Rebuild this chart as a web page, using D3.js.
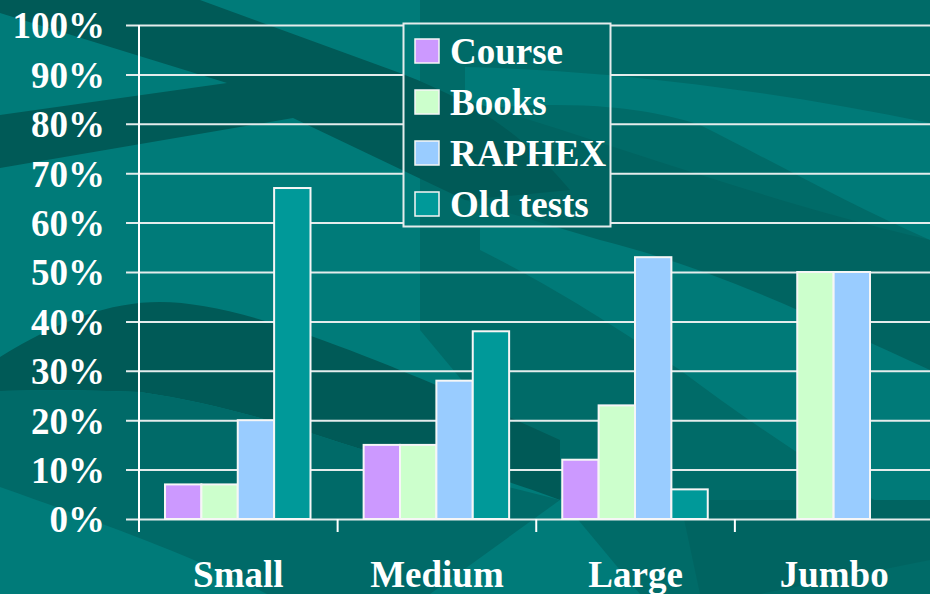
<!DOCTYPE html>
<html>
<head>
<meta charset="utf-8">
<script src="https://cdn.jsdelivr.net/npm/d3@7"></script>
<style>
  html, body { margin: 0; padding: 0; background: #007b79; overflow: hidden; }
  svg text { font-family: "Liberation Serif", "Times New Roman", serif; font-weight: bold; fill: #ffffff; }
</style>
</head>
<body>
<svg id="chart" width="930" height="594"></svg>
<script>
// Study-resource usage by group size
const categories = ["Small", "Medium", "Large", "Jumbo"];
const seriesNames = ["Course", "Books", "RAPHEX", "Old tests"];
const course   = [7, 15, 12, 0];
const books    = [7, 15, 23, 50];
const raphex   = [20, 28, 53, 50];
const oldTests = [67, 38, 6, 0];
const seriesColors = ["#cc99ff", "#ccffcc", "#99ccff", "#009999"];
const yTicks = [0, 10, 20, 30, 40, 50, 60, 70, 80, 90, 100];

const seriesValues = [course, books, raphex, oldTests];

const W = 930, H = 594;
const FONT_SIZE = 37;
const svg = d3.select("#chart");
const defs = svg.append("defs");

// ---- slide background: teal with sweeping darker bands ----
const bg = svg.append("g").attr("id", "bg");
bg.append("rect").attr("width", W).attr("height", H).attr("fill", "#007b79");
const bands = [
  // broad darker right half
  { fill: "#006b68", d: "M420,0 L930,0 L930,594 L640,594 L420,330 Z" },
  // light curved streak, upper right
  { fill: "#007a78", d: "M465,67 C600,70 760,88 930,123 L930,240 C850,205 770,160 700,125 C640,105 560,100 465,110 Z" },
  // light diagonal streak, lower right
  { fill: "#007a78", d: "M480,225 L700,225 C780,270 850,320 930,360 L930,530 C850,490 760,430 680,370 C620,330 560,290 480,250 Z" },
  // darker sweep under the legend toward the right edge
  { fill: "#006461", d: "M465,100 C600,140 760,200 930,240 L930,370 C820,320 720,270 600,240 L465,200 Z" },
  // dark band from the top-left with a light wedge
  { fill: "#005a57", d: "M0,0 L200,0 L400,73 C470,100 520,130 570,190 L465,200 L293,118 L0,168 L0,115 L227,83 L0,13 Z" },
  // dark hump, lower left
  { fill: "#005a57", d: "M0,357 C60,320 110,302 160,302 C230,302 330,340 465,397 L560,440 L560,500 C480,470 420,455 367,451 C300,430 230,405 140,392 C90,390 40,390 0,391 Z" },
  // mid band below the hump
  { fill: "#006a68", d: "M0,391 C40,390 90,390 140,392 C230,405 300,430 367,451 C420,465 480,480 560,500 L430,594 L267,594 C200,560 133,534 0,487 Z" },
  // dark corner streak, bottom right
  { fill: "#006461", d: "M680,500 L930,500 L930,560 L760,594 L700,594 Z" }
];
bg.selectAll("path").data(bands).join("path")
  .attr("d", d => d.d).attr("fill", d => d.fill);

// ---- scales ----
const y = d3.scaleLinear().domain([0, 100]).range([519, 25]);
const x0 = d3.scaleBand().domain(categories).range([139, 933.5]);
const x1 = d3.scaleBand().domain(seriesNames).range([26, 171.5]);
const color = d3.scaleOrdinal().domain(seriesNames).range(seriesColors);

// ---- horizontal gridlines + y tick labels ----
const yAxis = d3.axisLeft(y)
  .tickValues(yTicks)
  .tickFormat(d => d + "%")
  .tickSizeInner(-(W - 126))
  .tickSizeOuter(0)
  .tickPadding(21);
const gy = svg.append("g").attr("transform", "translate(126,0)").call(yAxis);
gy.select(".domain").remove();
gy.selectAll(".tick line").attr("stroke", "#e4ecec").attr("stroke-width", 2);
gy.selectAll(".tick text")
  .attr("font-size", FONT_SIZE)
  .attr("font-family", null)
  .attr("fill", "#ffffff")
  .attr("dy", "0.35em");

// ---- vertical axis line and category separators ----
svg.append("line")
  .attr("x1", 139).attr("x2", 139)
  .attr("y1", y(100)).attr("y2", y(0) + 13)
  .attr("stroke", "#ffffff").attr("stroke-width", 2);
const boundaries = categories.slice(1).map(c => x0(c)).concat([x0.range()[1]]);
svg.append("g").selectAll("line").data(boundaries).join("line")
  .attr("x1", d => d).attr("x2", d => d)
  .attr("y1", y(0)).attr("y2", y(0) + 13)
  .attr("stroke", "#ffffff").attr("stroke-width", 2);

// ---- bars ----
const barData = [];
categories.forEach((c, i) => {
  seriesNames.forEach((s, j) => {
    const v = seriesValues[j][i];
    if (v > 0) barData.push({ category: c, series: s, value: v });
  });
});
svg.append("g").selectAll("rect").data(barData).join("rect")
  .attr("x", d => x0(d.category) + x1(d.series))
  .attr("width", x1.bandwidth())
  .attr("y", d => y(d.value))
  .attr("height", d => y(0) - y(d.value))
  .attr("fill", d => color(d.series))
  .attr("stroke", "#f6f6f6")
  .attr("stroke-width", 2);

// ---- category labels ----
svg.append("g").selectAll("text").data(categories).join("text")
  .attr("x", d => x0(d) + x0.bandwidth() / 2)
  .attr("y", 587)
  .attr("text-anchor", "middle")
  .attr("font-size", FONT_SIZE)
  .text(d => d);

// ---- legend: background shows through, gridlines hidden ----
const lg = { x: 403.5, y: 23.5, w: 207, h: 203 };
defs.append("clipPath").attr("id", "legendClip")
  .append("rect").attr("x", lg.x).attr("y", lg.y).attr("width", lg.w).attr("height", lg.h);
svg.append("use").attr("href", "#bg").attr("clip-path", "url(#legendClip)");
svg.append("rect")
  .attr("x", lg.x).attr("y", lg.y).attr("width", lg.w).attr("height", lg.h)
  .attr("fill", "none").attr("stroke", "#e4ecec").attr("stroke-width", 2);
const items = svg.append("g").selectAll("g").data(seriesNames).join("g")
  .attr("transform", (d, i) => `translate(415, ${51 + i * 51})`);
items.append("rect")
  .attr("x", 0).attr("y", -12).attr("width", 24).attr("height", 24)
  .attr("fill", d => color(d))
  .attr("stroke", "#f6f6f6").attr("stroke-width", 1.5);
items.append("text")
  .attr("x", 35).attr("y", 13)
  .attr("font-size", FONT_SIZE)
  .text(d => d);
</script>
</body>
</html>
